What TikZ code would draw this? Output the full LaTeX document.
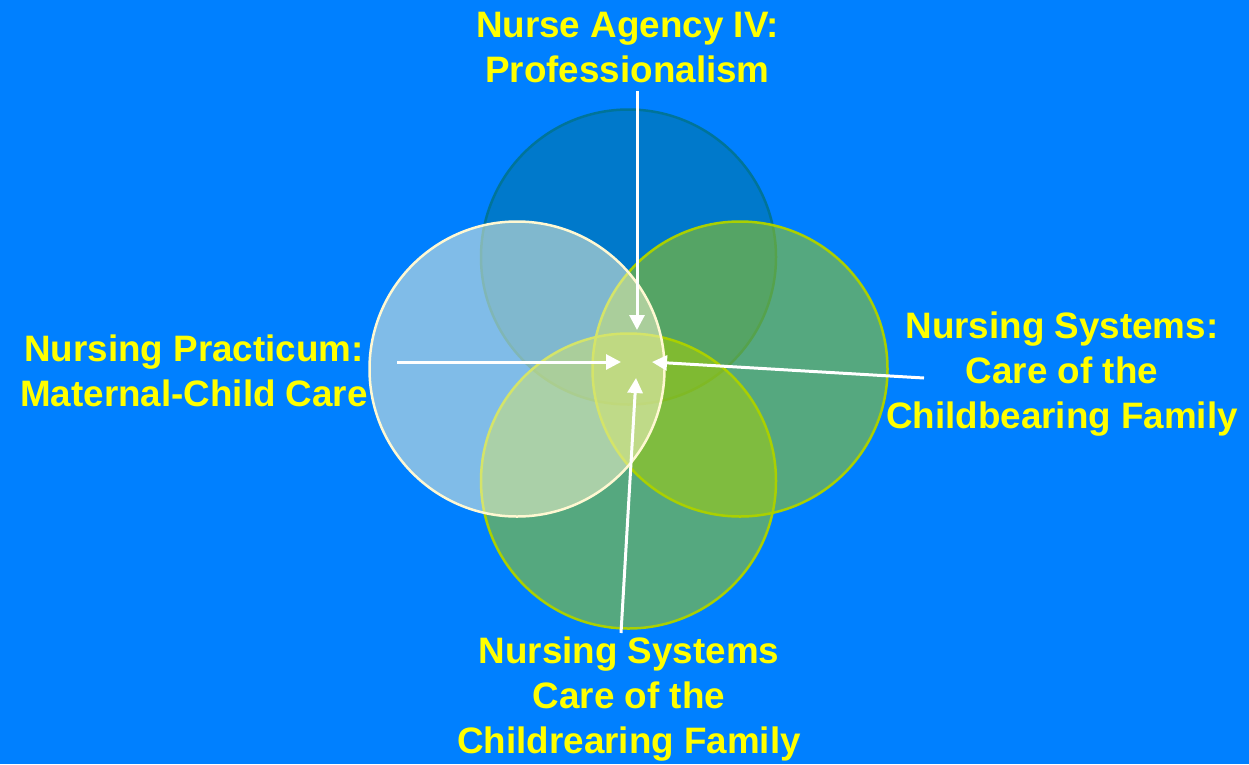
\documentclass[tikz,border=0pt]{standalone}
\usepackage{fontspec}
\setmainfont{Liberation Sans}
\usetikzlibrary{arrows.meta}
\definecolor{bgblue}{RGB}{0,128,255}
\definecolor{topfill}{RGB}{0,116,153}
\definecolor{greenfill}{RGB}{170,208,0}
\definecolor{creamfill}{RGB}{255,248,210}
\definecolor{labelyellow}{RGB}{255,255,0}
\tikzset{
  venn/.style={circle, minimum size=295pt, inner sep=0pt, line width=2.5pt, fill opacity=0.5, draw opacity=1},
  lbl/.style={text=labelyellow, align=center, anchor=base, inner sep=0pt,
    font=\fontsize{36.8}{44.8}\selectfont\bfseries},
  pointer/.style={draw=white, line width=3pt, -{Triangle[length=15pt,width=15pt]}}
}
\begin{document}
\begin{tikzpicture}[x=1pt,y=-1pt]
\fill[bgblue] (0,0) rectangle (1249,764);
\useasboundingbox (0,0) rectangle (1249,764);
% circles (back to front)
\node[venn, fill=topfill, draw=topfill] (ctop) at (628.5,257) {};
\node[venn, fill=greenfill, draw=greenfill] (cright) at (740,369) {};
\node[venn, fill=greenfill, draw=greenfill] (cbottom) at (628.5,481) {};
\node[venn, fill=creamfill, draw=creamfill] (cleft) at (517,369) {};
% labels (base anchor = baseline of last line)
\node[lbl] (ltop) at (627.5,82) {Nurse Agency IV:\\Professionalism};
\node[lbl] (lleft) at (194,406) {Nursing Practicum:\\Maternal-Child Care};
\node[lbl] (lright) at (1062,428) {Nursing Systems:\\Care of the\\Childbearing Family};
\node[lbl] (lbottom) at (629,753) {Nursing Systems\\Care of the\\Childrearing Family};
% arrow ends
\coordinate (stop) at (637,91);
\coordinate (ttop) at (637,330);
\coordinate (sleft) at (397,362);
\coordinate (tleft) at (621,362);
\coordinate (sright) at (924,378);
\coordinate (tright) at (652,362);
\coordinate (sbottom) at (621,633);
\coordinate (tbottom) at (636,378);
\draw[pointer] (stop) -- (ttop);
\draw[pointer] (sleft) -- (tleft);
\draw[pointer] (sright) -- (tright);
\draw[pointer] (sbottom) -- (tbottom);
\end{tikzpicture}
\end{document}
